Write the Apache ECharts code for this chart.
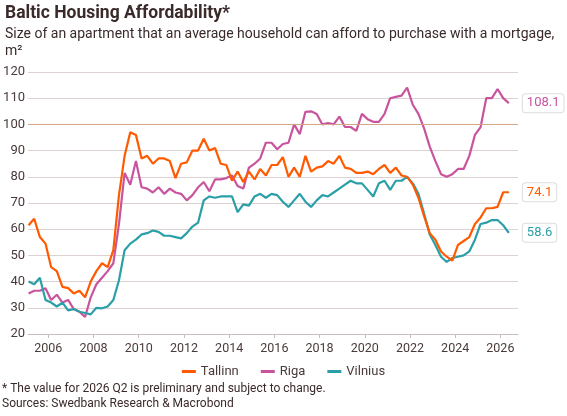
<!DOCTYPE html>
<html><head><meta charset="utf-8">
<script src="https://cdn.jsdelivr.net/npm/echarts@6/dist/echarts.min.js"></script>
<style>html,body{margin:0;padding:0;background:#fff}#c{width:567px;height:416px}</style>
</head><body><div id="c"></div>
<script>
const startYear = 2005.125, step = 0.25;
const tallinn = [61.5,64,57,54.5,45.5,44,38,37.5,35.5,36.5,34,40,44,47,45.5,52,73,88,97,96,87,88,85,87,87,86,79.5,85,85.5,90,90,94.5,90,91,85,84.5,78.5,82,78,82,79,83,80.5,84.5,84.5,87.5,80,83.5,80,88,82,83.5,84,86,85,88,83.5,83,81.5,81.5,82,81,83,84.5,81.5,83.5,80.5,80,77,72,65,58.5,56,51.5,49.5,48,54,55.5,57,62,64.5,68,68,68.5,74.1,74.1];
const riga = [35.5,36.5,36.5,37.5,33,35,32,33,29.5,28.5,26.5,34,39,41.5,44,47,62,81.5,77,86,76,75.5,74,76,73.5,75.5,74,73.5,71,73,76,78,74.5,79,79,79.5,80.5,76.5,75.5,83.5,85,87,93,93,90.5,92.5,93,100,96.3,104.8,105,104,100,100.5,100,103,99,99,97.5,104,102,101,101,104,110,110.5,111,114,107.5,104,98.5,91.5,86,81,80,81,83,83,88,96,99,110,110,113.5,110,108.1];
const vilnius = [40,39,41.5,33,32,30.5,32,29,29.5,28.5,28,27.5,30,29.8,30.5,33,40.5,52,54.5,56,58,58.5,59.5,59,57.5,57.5,57,56.5,58.5,61,62.5,71,72.5,72,72.5,72.5,72.5,66.5,69.5,69,72.5,73.5,72,73.5,73,70.5,68.5,71,73.5,70.5,68.5,71,73,72.5,74,75.5,77,78.5,77.5,77.5,75,72.5,77.5,78.5,75,78.5,78.5,80,77.5,73.5,66,58,54,49.5,47.5,49,49.5,50,51.5,56,62,62.5,63.5,63.5,61.5,58.6];
const yearLabels = [2006,2008,2010,2012,2014,2016,2018,2020,2022,2024,2026];
const names = ['Tallinn','Riga','Vilnius'];
const colors = ['#ff5a00','#c9549e','#2a9fa8'];
const pts = a => a.map((v,i)=>[startYear+i*step, v]);
const txt = '#4a3a3a';
const chart = echarts.init(document.getElementById('c'));
const mk = (name, data, color, extra) => Object.assign({
  name, type:'line', data: pts(data), symbol:'none', smooth:false,
  lineStyle:{width:2.2,color}, itemStyle:{color},
  endLabel:{show:true, formatter: p=>p.value[1].toFixed(1), color, fontSize:13,
    backgroundColor:'#fff', borderColor:'#ddd', borderWidth:1, borderRadius:3,
    padding:[3,4,2,4], distance:14, fontFamily:'Roboto'}
}, extra||{});
chart.setOption({
  animation:false,
  textStyle:{fontFamily:'Roboto'},
  title:{text:'Baltic Housing Affordability*', left:0, top:0,
    textStyle:{fontSize:17.5, fontWeight:'bold', color:'#3a2a2a', fontFamily:'Roboto'},
    subtext:'Size of an apartment that an average household can afford to purchase with a mortgage,\nm²',
    subtextStyle:{fontSize:14, color:'#3a2a2a', lineHeight:17, fontFamily:'Roboto'}, itemGap:3},
  legend:{bottom:33, left:'center', itemWidth:14, itemHeight:3, icon:'rect', itemGap:22,
    textStyle:{fontSize:13, color:txt}, data:names},
  grid:{left:28, right:49, top:72, bottom:82},
  xAxis:{type:'value', min:2005.1, max:2026.78,
    axisLine:{show:true, lineStyle:{color:'#c8bcbc'}},
    axisTick:{show:true, customValues:yearLabels, length:4, lineStyle:{color:'#c8bcbc'}},
    axisLabel:{customValues:yearLabels, color:txt, fontSize:12.5, formatter:v=>String(v)},
    splitLine:{show:false}},
  yAxis:{type:'value', min:20, max:120, interval:10,
    axisLabel:{color:txt, fontSize:13, margin:3},
    axisLine:{show:false}, axisTick:{show:false},
    splitLine:{lineStyle:{color:'#ddd0d0', width:1.2}}},
  graphic:[
    {type:'text', left:2, top:383, style:{text:'* The value for 2026 Q2 is preliminary and subject to change.', fontSize:12, fill:'#3a2a2a', fontFamily:'Roboto'}},
    {type:'text', left:2, top:398, style:{text:'Sources: Swedbank Research & Macrobond', fontSize:12, fill:'#3a2a2a', fontFamily:'Roboto'}}
  ],
  series:[
    mk('Tallinn', tallinn, colors[0], {markLine:{silent:true, symbol:'none', label:{show:false},
      lineStyle:{color:'#d4a58a', type:'solid', width:1.2}, data:[{yAxis:100}]}, z:3}),
    mk('Riga', riga, colors[1], {z:2}),
    mk('Vilnius', vilnius, colors[2], {z:2})
  ]
});
</script></body></html>
